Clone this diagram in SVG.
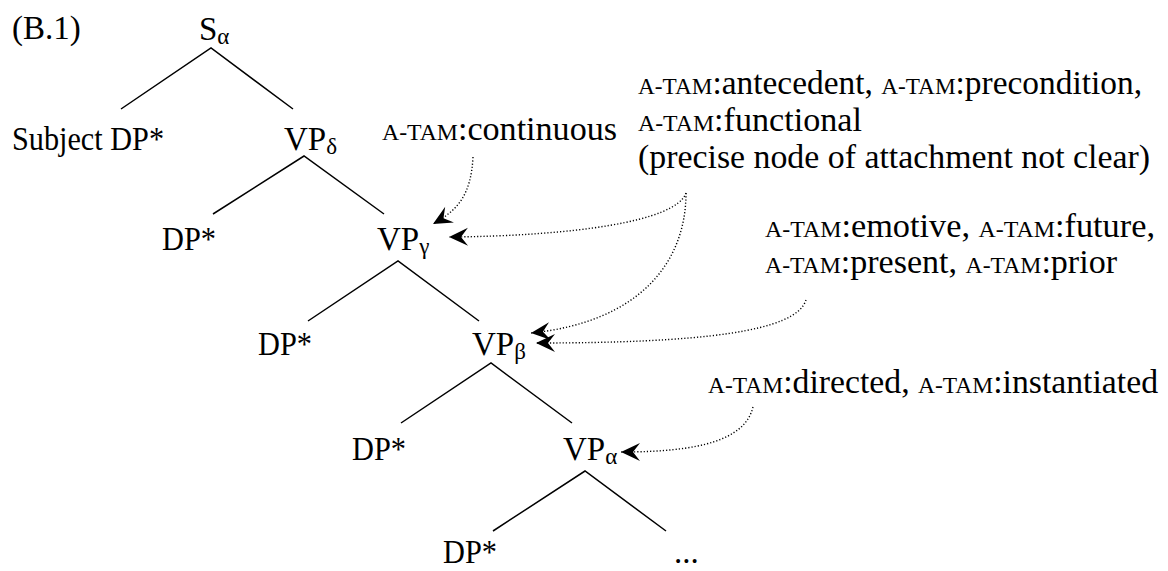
<svg xmlns="http://www.w3.org/2000/svg" width="1168" height="571" viewBox="0 0 1168 571">
<style>
text{font-family:"Liberation Serif","Times New Roman",serif;font-size:33px;fill:#000}
.sc{font-size:23px}
.sub{font-size:23px}
.edge{stroke:#000;stroke-width:1.5;fill:none;stroke-linecap:butt}
.dot{stroke:#000;stroke-width:1.4;fill:none;stroke-dasharray:1.2 2;marker-end:url(#stealth)}
</style>
<defs>
<marker id="stealth" viewBox="-20 -10 21 20" refX="0" refY="0" markerWidth="21" markerHeight="20" markerUnits="userSpaceOnUse" orient="auto">
<path d="M0,0 L-19,-9 L-12,0 L-19,9 Z" fill="#000"/>
</marker>
</defs>
<rect width="1168" height="571" fill="#fff"/>
<g id="label-b1"><text x="12" y="39">(B.1)</text></g>
<g id="node-S"><text x="199" y="40">S<tspan class="sub" dy="4">α</tspan></text></g>
<g id="node-subjDP"><text x="12" y="150" textLength="152" lengthAdjust="spacingAndGlyphs">Subject DP*</text></g>
<g id="node-VPd"><text x="284" y="150">VP<tspan class="sub" dy="4">δ</tspan></text></g>
<g id="node-DP2"><text x="162" y="250" textLength="54" lengthAdjust="spacingAndGlyphs">DP*</text></g>
<g id="node-VPg"><text x="377" y="250">VP<tspan class="sub" dy="4">γ</tspan></text></g>
<g id="node-DP3"><text x="258" y="355" textLength="54" lengthAdjust="spacingAndGlyphs">DP*</text></g>
<g id="node-VPb"><text x="472" y="355">VP<tspan class="sub" dy="4">β</tspan></text></g>
<g id="node-DP4"><text x="352" y="460" textLength="54" lengthAdjust="spacingAndGlyphs">DP*</text></g>
<g id="node-VPa"><text x="563" y="460">VP<tspan class="sub" dy="4">α</tspan></text></g>
<g id="node-DP5"><text x="443" y="563" textLength="54" lengthAdjust="spacingAndGlyphs">DP*</text></g>
<g id="node-ellipsis"><text x="674" y="563">...</text></g>
<g id="ann-continuous"><text x="382" y="140" textLength="235" lengthAdjust="spacingAndGlyphs"><tspan class="sc">A-TAM</tspan>:continuous</text></g>
<g id="ann-antecedent">
<text x="638" y="94" textLength="504" lengthAdjust="spacingAndGlyphs"><tspan class="sc">A-TAM</tspan>:antecedent, <tspan class="sc">A-TAM</tspan>:precondition,</text>
<text x="638" y="131" textLength="224" lengthAdjust="spacingAndGlyphs"><tspan class="sc">A-TAM</tspan>:functional</text>
<text x="638" y="168" textLength="512" lengthAdjust="spacingAndGlyphs">(precise node of attachment not clear)</text>
</g>
<g id="ann-emotive">
<text x="765" y="237" textLength="390" lengthAdjust="spacingAndGlyphs"><tspan class="sc">A-TAM</tspan>:emotive, <tspan class="sc">A-TAM</tspan>:future,</text>
<text x="765" y="273" textLength="352" lengthAdjust="spacingAndGlyphs"><tspan class="sc">A-TAM</tspan>:present, <tspan class="sc">A-TAM</tspan>:prior</text>
</g>
<g id="ann-directed"><text x="708" y="393" textLength="450" lengthAdjust="spacingAndGlyphs"><tspan class="sc">A-TAM</tspan>:directed, <tspan class="sc">A-TAM</tspan>:instantiated</text></g>
<g id="connectors">
<path class="edge" d="M121,109 L211,48 L293,109"/>
<path class="edge" d="M213,214 L304,156 L384,214"/>
<path class="edge" d="M308,321 L398,261 L479,321"/>
<path class="edge" d="M401,423 L491,363 L572,423"/>
<path class="edge" d="M493,531 L585,471 L666,531"/>
<path class="dot" d="M473,157 C471,195 458,210 433,224"/>
<path class="dot" d="M686,193 C676,222 570,236 449,237"/>
<path class="dot" d="M686,193 C686,262 640,322 531,333"/>
<path class="dot" d="M806,300 C796,332 700,343 536,343"/>
<path class="dot" d="M753,407 C745,440 700,452 621,452"/>
</g>
</svg>
